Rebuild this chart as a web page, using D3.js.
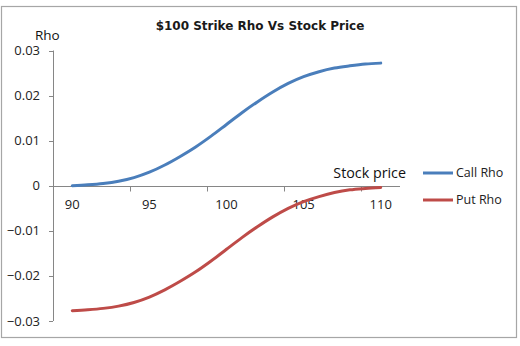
<!DOCTYPE html>
<html><head><meta charset="utf-8">
<script src="https://cdn.jsdelivr.net/npm/d3@7"></script>
<style>body{margin:0;background:#fff}svg{display:block}</style>
</head><body>
<svg id="c" width="520" height="346"></svg>
<script>
const stockPrices = [90,91,92,93,94,95,96,97,98,99,100,101,102,103,104,105,106,107,108,109,110];
const callRho = [0.0000,0.0002,0.0005,0.0010,0.0018,0.0030,0.0046,0.0065,0.0086,0.0110,0.0136,0.0162,0.0186,0.0208,0.0227,0.0242,0.0253,0.0261,0.0266,0.0270,0.0272];
const putRho = [-0.0277,-0.0275,-0.0272,-0.0267,-0.0259,-0.0247,-0.0231,-0.0212,-0.0191,-0.0167,-0.0141,-0.0115,-0.0091,-0.0069,-0.0050,-0.0035,-0.0024,-0.0015,-0.0009,-0.0006,-0.0004];
const xTickLabels = [90,95,100,105,110];
const yTicks = [-0.03,-0.02,-0.01,0,0.01,0.02,0.03];
const seriesNames = ["Call Rho","Put Rho"];
const seriesColors = ["#4A7EBB","#BE4B48"];

const svg = d3.select("#c");
svg.append("rect").attr("x",1.5).attr("y",6.5).attr("width",515).attr("height",331)
  .attr("fill","#fff").attr("stroke","#a6a6a6").attr("stroke-width",1.2);

const x = d3.scaleLinear().domain([88.75,111.25]).range([53,400]);
const y = d3.scaleLinear().domain([-0.03,0.03]).range([321,50.5]);
const axisColor = "#868686";
const font = "'Open Sans', sans-serif";

// title
svg.append("text").attr("x",260).attr("y",30).attr("text-anchor","middle")
  .attr("font-family","Verdana, 'DejaVu Sans', sans-serif").attr("font-weight","bold")
  .attr("font-size",12).attr("fill","#1a1a1a").text("$100 Strike Rho Vs Stock Price");

// y axis
const ya = svg.append("g");
ya.append("line").attr("x1",x(88.75)+0.5).attr("x2",x(88.75)+0.5).attr("y1",y(0.03)).attr("y2",y(-0.03))
  .attr("stroke",axisColor);
yTicks.forEach(t=>{
  ya.append("line").attr("x1",x(88.75)-4).attr("x2",x(88.75)).attr("y1",Math.round(y(t))+0.5).attr("y2",Math.round(y(t))+0.5).attr("stroke",axisColor);
  ya.append("text").attr("x",x(88.75)-13).attr("y",y(t)).attr("dy","0.35em").attr("text-anchor","end")
    .attr("font-family",font).attr("font-size",13).attr("fill","#222")
    .text(t===0?"0":d3.format(".2f")(t));
});
svg.append("text").attr("x",35).attr("y",40).attr("font-family",font).attr("font-size",13.5).attr("fill","#111").text("Rho");

// x axis at y=0
const y0 = Math.round(y(0))+0.5;
svg.append("line").attr("x1",x(88.75)).attr("x2",x(111.25)).attr("y1",y0).attr("y2",y0).attr("stroke",axisColor);
xTickLabels.forEach((v,i)=>{
  if(i>0){
    const tx = Math.round(x(v-1.25))+0.5;
    svg.append("line").attr("x1",tx).attr("x2",tx).attr("y1",y0).attr("y2",y0+5).attr("stroke",axisColor);
  }
  svg.append("text").attr("x",x(v)).attr("y",209).attr("text-anchor","middle")
    .attr("font-family",font).attr("font-size",13).attr("fill","#222").text(v);
});
svg.append("text").attr("x",406).attr("y",178).attr("text-anchor","end")
  .attr("font-family",font).attr("font-size",14.3).attr("fill","#111").text("Stock price");

// lines
const line = d3.line().x(d=>x(d[0])).y(d=>y(d[1])).curve(d3.curveMonotoneX);
[callRho,putRho].forEach((vals,i)=>{
  svg.append("path").datum(stockPrices.map((s,j)=>[s,vals[j]]))
    .attr("d",line).attr("fill","none").attr("stroke",seriesColors[i])
    .attr("stroke-width",3).attr("stroke-linecap","round");
});

// legend
seriesNames.forEach((n,i)=>{
  const ly = 173 + i*27;
  svg.append("line").attr("x1",423).attr("x2",453).attr("y1",ly).attr("y2",ly)
    .attr("stroke",seriesColors[i]).attr("stroke-width",3);
  svg.append("text").attr("x",456).attr("y",ly).attr("dy","0.35em")
    .attr("font-family",font).attr("font-size",12.5).attr("fill","#222").text(n);
});
</script>
</body></html>
